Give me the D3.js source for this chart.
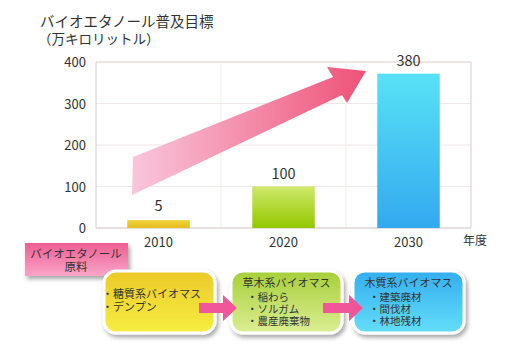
<!DOCTYPE html>
<html>
<head>
<meta charset="utf-8">
<script src="https://cdn.jsdelivr.net/npm/d3@7"></script>
<style>
  body { margin: 0; background: #fff; }
  svg { display: block; font-family: "Noto Sans CJK JP", "Noto Sans", sans-serif; }
  .jp { font-family: "Liberation Sans", "Noto Sans CJK JP", sans-serif; }
</style>
</head>
<body>
<svg id="chart" width="514" height="362"></svg>
<script>
// data
const years = ['2010', '2020', '2030']
const barValues = [19, 100, 372]      // drawn bar heights (scale units)
const barLabels = ['5', '100', '380'] // printed targets
const yTicks = [0, 100, 200, 300, 400]
const barColors = [['#f2d43a', '#e3bc1c'], ['#cfe96a', '#93c700'], ['#58e2f6', '#33a9ef']]

const feedstock = [
  { title: null, items: ['糖質系バイオマス', 'デンプン'], colors: ['#ecc928', '#f6ee42'] },
  { title: '草木系バイオマス', items: ['稲わら', 'ソルガム', '農産廃棄物'], colors: ['#a6cf38', '#dcee94'] },
  { title: '木質系バイオマス', items: ['建築廃材', '間伐材', '林地残材'], colors: ['#33aef0', '#64def8'] }
]

const svg = d3.select('#chart')
const defs = svg.append('defs')

const x = d3.scaleBand().domain(years).range([96, 471]).paddingInner(0.5).paddingOuter(0.25)
const y = d3.scaleLinear().domain([0, 400]).range([228, 62])

// gradients
function vGrad(id, top, bottom) {
  const g = defs.append('linearGradient').attr('id', id).attr('x1', 0).attr('y1', 0).attr('x2', 0).attr('y2', 1)
  g.append('stop').attr('offset', '0%').attr('stop-color', top)
  g.append('stop').attr('offset', '100%').attr('stop-color', bottom)
}
barColors.forEach((c, i) => vGrad('bar' + i, c[0], c[1]))
feedstock.forEach((f, i) => vGrad('box' + i, f.colors[0], f.colors[1]))
vGrad('tag', '#ee5d92', '#f8a6c8')

const ag = defs.append('linearGradient').attr('id', 'arrowGrad').attr('x1', 0).attr('y1', 0).attr('x2', 1).attr('y2', 0)
ag.append('stop').attr('offset', '0%').attr('stop-color', '#f9c6dc')
ag.append('stop').attr('offset', '100%').attr('stop-color', '#ee5277')

const sh = defs.append('filter').attr('id', 'shadow').attr('x', '-20%').attr('y', '-20%').attr('width', '140%').attr('height', '150%')
sh.append('feDropShadow').attr('dx', 2).attr('dy', 3).attr('stdDeviation', 2).attr('flood-color', '#000').attr('flood-opacity', 0.35)

// title
svg.append('text').attr('class', 'jp').attr('x', 40).attr('y', 27).attr('font-size', 14.5).attr('fill', '#333').text('バイオエタノール普及目標')
svg.append('text').attr('class', 'jp').attr('x', 38).attr('y', 44).attr('font-size', 13.5).attr('fill', '#333').text('（万キロリットル）')

// grid
svg.append('g').selectAll('line').data(yTicks).join('line')
  .attr('x1', 96).attr('x2', 471).attr('y1', d => y(d)).attr('y2', d => y(d))
  .attr('stroke', d => d === 400 ? '#dccaca' : '#f0e6e6')

const splits = [96, x('2010') + x.step() * 0.75, x('2020') + x.step() * 0.75, 471]
svg.append('g').selectAll('line').data(splits).join('line')
  .attr('x1', d => d).attr('x2', d => d).attr('y1', 62).attr('y2', 228)
  .attr('stroke', (d, i) => (i === 0 || i === 3) ? '#dccaca' : '#f3eded')

svg.append('line').attr('x1', 96).attr('x2', 471).attr('y1', 228).attr('y2', 228).attr('stroke', '#d8cccc')

// y tick labels
svg.append('g').selectAll('text').data(yTicks).join('text')
  .attr('x', 86).attr('y', d => y(d) + 5).attr('text-anchor', 'end')
  .attr('font-size', 13).attr('fill', '#333').text(d => d)

// bars
svg.append('g').selectAll('rect').data(years).join('rect')
  .attr('x', d => x(d)).attr('width', x.bandwidth())
  .attr('y', (d, i) => y(barValues[i])).attr('height', (d, i) => y(0) - y(barValues[i]))
  .attr('fill', (d, i) => `url(#bar${i})`)

// value labels
const labelY = [205, 173, 60]
svg.append('g').selectAll('text').data(years).join('text')
  .attr('x', d => x(d) + x.bandwidth() / 2).attr('y', (d, i) => labelY[i] + 6)
  .attr('text-anchor', 'middle').attr('font-size', 14.5).attr('fill', '#333')
  .text((d, i) => barLabels[i])

// year labels
svg.append('g').selectAll('text').data(years).join('text')
  .attr('x', d => x(d) + x.bandwidth() / 2).attr('y', 247)
  .attr('text-anchor', 'middle').attr('font-size', 13).attr('fill', '#333').text(d => d)
svg.append('text').attr('x', 463).attr('y', 245).attr('font-size', 12).attr('fill', '#333').text('年度')

// big trend arrow
const arrowPts = [[132, 195], [133, 157], [333, 77], [327, 67], [366, 71], [347, 103], [342, 95]]
svg.append('path').attr('d', d3.line()(arrowPts) + 'Z').attr('fill', 'url(#arrowGrad)')

// feedstock tag
const tag = svg.append('g')
tag.append('rect').attr('x', 25).attr('y', 243).attr('width', 103).attr('height', 33)
  .attr('fill', 'url(#tag)').attr('filter', 'url(#shadow)')
const tagText = tag.append('text').attr('class', 'jp').attr('text-anchor', 'middle').attr('font-size', 11.5).attr('fill', '#333')
tagText.append('tspan').attr('x', 76).attr('y', 258).text('バイオエタノール')
tagText.append('tspan').attr('x', 76).attr('dy', 13).text('原料')

// feedstock boxes
const boxX = [104, 231, 353]
const boxW = 111
feedstock.forEach((f, i) => {
  const g = svg.append('g')
  g.append('rect').attr('x', boxX[i]).attr('y', 271).attr('width', boxW).attr('height', 62)
    .attr('rx', 12).attr('fill', `url(#box${i})`).attr('stroke', '#fff').attr('stroke-width', 3)
    .attr('filter', 'url(#shadow)')
  const t = g.append('text').attr('class', 'jp').attr('fill', '#333')
  if (f.title) {
    t.append('tspan').attr('x', boxX[i] + boxW / 2).attr('y', 287).attr('text-anchor', 'middle')
      .attr('font-size', 11).text(f.title)
    f.items.forEach((s, j) => {
      t.append('tspan').attr('x', boxX[i] + 16).attr('y', 301 + j * 11.8)
        .attr('font-size', 10.5).text('・' + s)
    })
  } else {
    f.items.forEach((s, j) => {
      t.append('tspan').attr('x', boxX[i] - 2).attr('y', 298 + j * 12.5)
        .attr('font-size', 11).text('・' + s)
    })
  }
})

// small arrows between boxes
const smallArrows = [[199, 237], [323, 363]]
smallArrows.forEach(([a, b]) => {
  const pts = [[a, 303], [b - 14, 303], [b - 14, 295], [b, 308], [b - 14, 321], [b - 14, 313], [a, 313]]
  svg.append('path').attr('d', d3.line()(pts) + 'Z').attr('fill', '#f2569a')
})
</script>
</body>
</html>
